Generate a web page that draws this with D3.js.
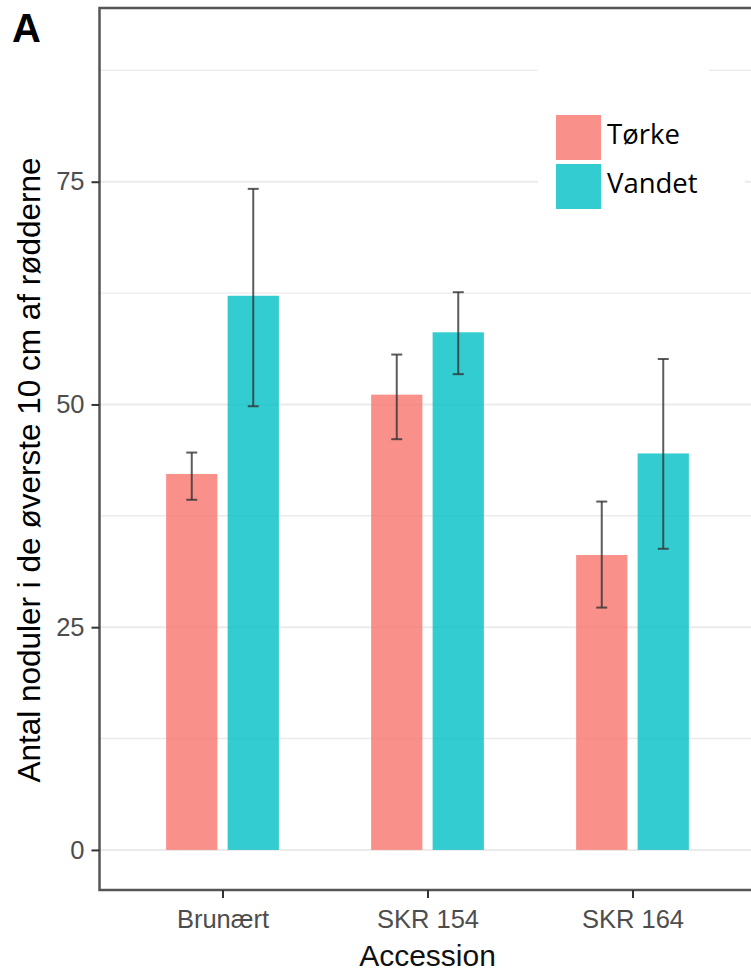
<!DOCTYPE html>
<html>
<head>
<meta charset="utf-8">
<script src="https://cdn.jsdelivr.net/npm/d3@7"></script>
<style>
  html, body { margin: 0; padding: 0; background: #fff; }
  svg { display: block; }
</style>
</head>
<body>
<svg id="chart" width="751" height="973"></svg>
<script>
// Nodule counts per accession, drought (Tørke) vs watered (Vandet)
const categories = ["Brunært", "SKR 154", "SKR 164"];
const groups = ["Tørke", "Vandet"];
const torkeMean = [42.2, 51.1, 33.1];
const torkeLow  = [39.3, 46.1, 27.2];
const torkeHigh = [44.6, 55.6, 39.1];
const vandetMean = [62.2, 58.1, 44.5];
const vandetLow  = [49.8, 53.4, 33.8];
const vandetHigh = [74.2, 62.6, 55.1];
const yTicks = [0, 25, 50, 75];
const yMinorTicks = [12.5, 37.5, 62.5, 87.5];
const groupColors = ["#F8766D", "#00BFC4"];

const rows = [];
categories.forEach((c, i) => {
  rows.push({cat: c, grp: groups[0], mean: torkeMean[i], lo: torkeLow[i], hi: torkeHigh[i]});
  rows.push({cat: c, grp: groups[1], mean: vandetMean[i], lo: vandetLow[i], hi: vandetHigh[i]});
});

const svg = d3.select("#chart");
const panel = {left: 99.5, right: 755.5, top: 8, bottom: 890};

const x = d3.scalePoint().domain(categories).range([panel.left, panel.right]).padding(0.6);
const step = x.step();
const dodge = d3.scaleBand().domain(groups).range([-0.3 * step, 0.3 * step]);
const barW = 0.25 * step;
const y = d3.scaleLinear().domain([-4.5, 94.5]).range([panel.bottom, panel.top]);
const color = d3.scaleOrdinal().domain(groups).range(groupColors);

// grid
const grid = svg.append("g");
grid.selectAll("line.minor").data(yMinorTicks).join("line")
  .attr("x1", panel.left).attr("x2", panel.right)
  .attr("y1", d => y(d)).attr("y2", d => y(d))
  .attr("stroke", "#ebebeb").attr("stroke-width", 1.4);
grid.selectAll("line.major").data(yTicks).join("line")
  .attr("x1", panel.left).attr("x2", panel.right)
  .attr("y1", d => y(d)).attr("y2", d => y(d))
  .attr("stroke", "#ebebeb").attr("stroke-width", 2);

// bars
svg.append("g").selectAll("rect").data(rows).join("rect")
  .attr("x", d => x(d.cat) + dodge(d.grp) + (dodge.bandwidth() - barW) / 2)
  .attr("width", barW)
  .attr("y", d => y(d.mean))
  .attr("height", d => y(0) - y(d.mean))
  .attr("fill", d => color(d.grp))
  .attr("fill-opacity", 0.8);

// error bars
const eb = svg.append("g").attr("stroke", "#333").attr("stroke-opacity", 0.8).attr("stroke-width", 2);
const cx = d => x(d.cat) + dodge(d.grp) + dodge.bandwidth() / 2;
const capW = 11;
eb.selectAll("line.v").data(rows).join("line")
  .attr("x1", cx).attr("x2", cx)
  .attr("y1", d => y(d.lo)).attr("y2", d => y(d.hi));
eb.selectAll("line.t").data(rows).join("line")
  .attr("x1", d => cx(d) - capW / 2).attr("x2", d => cx(d) + capW / 2)
  .attr("y1", d => y(d.hi)).attr("y2", d => y(d.hi));
eb.selectAll("line.b").data(rows).join("line")
  .attr("x1", d => cx(d) - capW / 2).attr("x2", d => cx(d) + capW / 2)
  .attr("y1", d => y(d.lo)).attr("y2", d => y(d.lo));

// panel border
svg.append("rect")
  .attr("x", panel.left).attr("y", panel.top)
  .attr("width", panel.right - panel.left).attr("height", panel.bottom - panel.top)
  .attr("fill", "none").attr("stroke", "#555").attr("stroke-width", 2.5);

// axes
const yAxis = svg.append("g").attr("transform", `translate(${panel.left},0)`)
  .call(d3.axisLeft(y).tickValues(yTicks).tickSize(8).tickPadding(7));
const xAxis = svg.append("g").attr("transform", `translate(0,${panel.bottom})`)
  .call(d3.axisBottom(x).tickSize(8).tickPadding(11.5));
[yAxis, xAxis].forEach(a => {
  a.select(".domain").remove();
  a.selectAll(".tick line").attr("stroke", "#333").attr("stroke-width", 2);
  a.selectAll(".tick text").attr("fill", "#4d4d4d")
    .style("font-family", "'Liberation Sans', Arial, sans-serif").style("font-size", "25.5px");
});

// axis titles
svg.append("text")
  .attr("transform", `translate(40,470) rotate(-90)`)
  .attr("text-anchor", "middle")
  .style("font-family", "'Liberation Sans', Arial, sans-serif").style("font-size", "31.5px")
  .attr("fill", "#000")
  .text("Antal noduler i de øverste 10 cm af rødderne");
svg.append("text")
  .attr("x", (panel.left + panel.right) / 2).attr("y", 966)
  .attr("text-anchor", "middle")
  .style("font-family", "'Liberation Sans', Arial, sans-serif").style("font-size", "30px")
  .attr("fill", "#111")
  .text("Accession");

// panel tag
svg.append("text")
  .attr("x", 12).attr("y", 42)
  .style("font-family", "'Liberation Sans', Arial, sans-serif").style("font-size", "40px")
  .style("font-weight", "bold").attr("fill", "#000")
  .text("A");

// legend
const legend = svg.append("g");
legend.append("rect").attr("x", 538).attr("y", 52).attr("width", 171).attr("height", 170).attr("fill", "#fff");
legend.append("rect").attr("x", 700).attr("y", 165).attr("width", 45).attr("height", 40).attr("fill", "#fff");
const key = legend.selectAll("g.key").data(groups).join("g")
  .attr("transform", (d, i) => `translate(556,${115 + i * 49})`);
key.append("rect").attr("width", 45).attr("height", 45)
  .attr("fill", d => color(d)).attr("fill-opacity", 0.8);
key.append("text").attr("x", 51).attr("y", 29)
  .style("font-family", "'Open Sans', 'Noto Sans', sans-serif").style("font-size", "27.5px")
  .attr("fill", "#000")
  .text(d => d);
</script>
</body>
</html>
